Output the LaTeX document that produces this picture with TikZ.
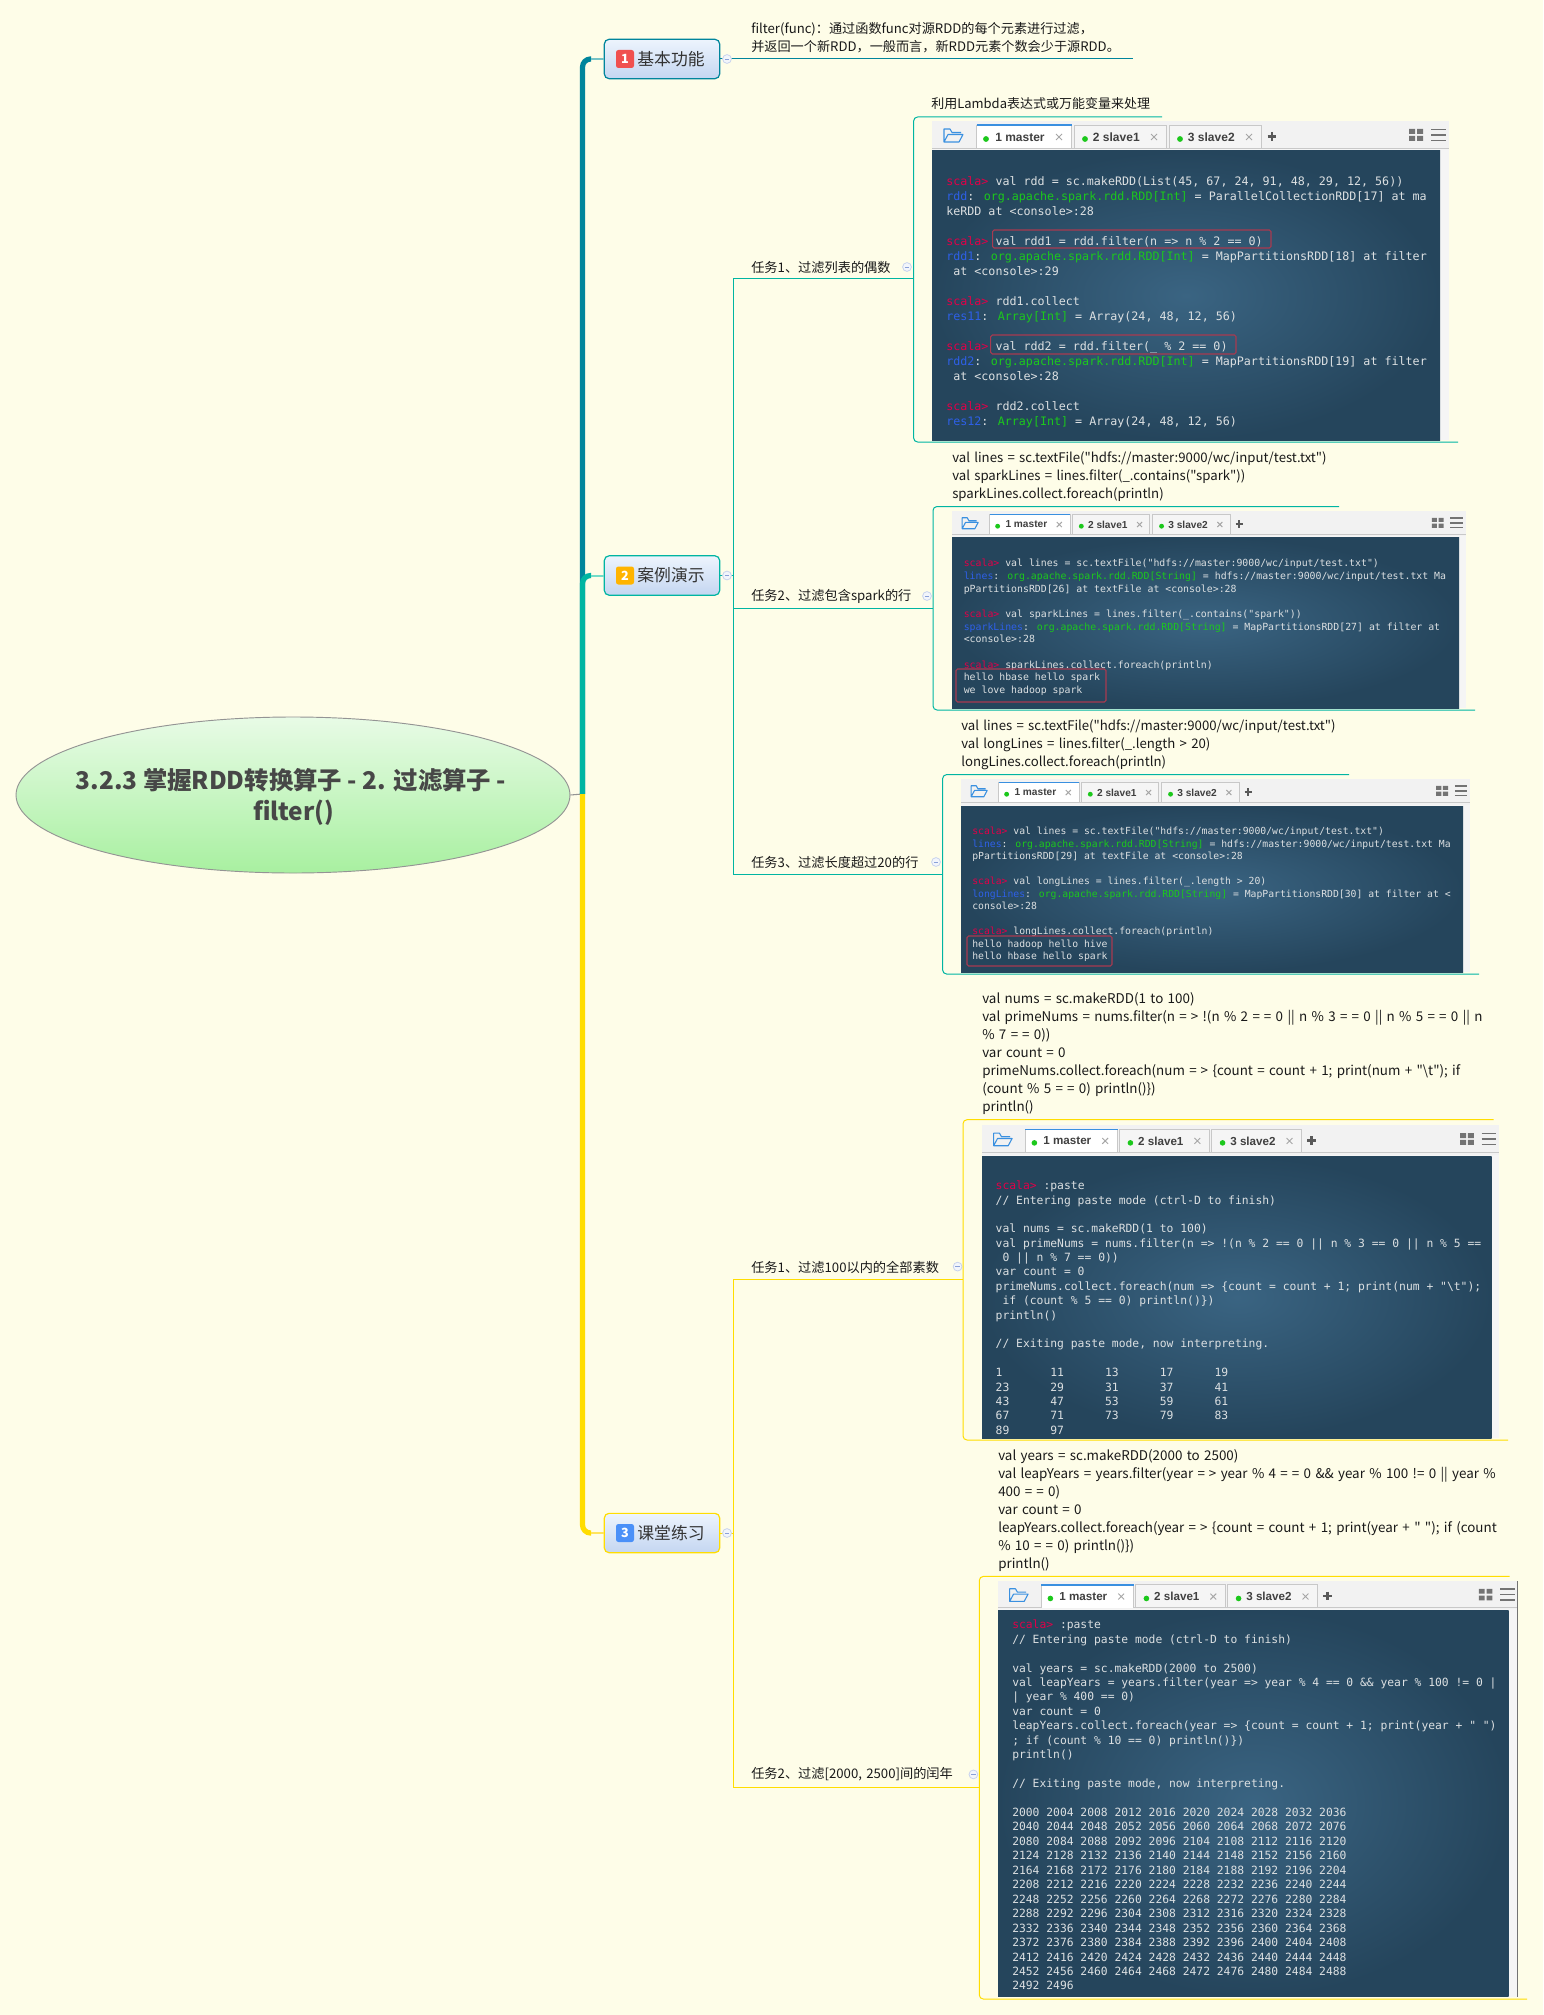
\documentclass[tikz,border=0pt]{standalone}
\usepackage{fontspec}
\usetikzlibrary{shapes.geometric,calc}
\setmainfont{Noto Sans CJK SC}
\newfontfamily\ycode{Noto Sans CJK SC}[WordSpace=1.45]
\newfontfamily\tmono{DejaVu Sans Mono}
\newfontfamily\tabfont{Liberation Sans}
\definecolor{bg}{HTML}{FEFDE8}
\definecolor{tealA}{HTML}{00859C}
\definecolor{tealAl}{HTML}{74C2C6}
\definecolor{tealB}{HTML}{00B5A2}
\definecolor{tealBl}{HTML}{72DCC8}
\definecolor{gold}{HTML}{FFDD00}
\definecolor{goldl}{HTML}{FFE45C}
\definecolor{tprompt}{HTML}{E00048}
\definecolor{tname}{HTML}{2E60E8}
\definecolor{ttype}{HTML}{1CC81C}
\definecolor{ttext}{HTML}{DCE0E2}
\definecolor{redbox}{HTML}{A83A50}
\definecolor{tabline}{HTML}{C8C8C8}
\definecolor{iconblue}{HTML}{3A90E0}
\definecolor{topA}{HTML}{EDF4FD}
\definecolor{topB}{HTML}{C4D6F1}
\definecolor{collb}{HTML}{C8D3EE}
\definecolor{collf}{HTML}{F2F5FB}
\definecolor{collm}{HTML}{8AA0D8}
\definecolor{termA}{HTML}{3A6482}
\definecolor{termB}{HTML}{25455C}
\definecolor{rootA}{HTML}{E8FBE6}
\definecolor{rootB}{HTML}{A8F0A0}
\definecolor{badgeA}{HTML}{F0504F}
\definecolor{badgeB}{HTML}{FFB400}
\definecolor{badgeC}{HTML}{4A90F8}
\newcommand\pr{\textcolor{tprompt}{scala>}}
\newcommand\nm[1]{\textcolor{tname}{#1}}
\newcommand\ty[1]{\textcolor{ttype}{#1}}
\newcommand\bl{\mbox{}\\}
\newcommand\eqq{=\kern3pt=}
\newcommand\arr{=\kern3pt>}
\tikzset{
  x=0.75pt,y=-0.75pt,
  topic/.style={rounded corners=3.5pt,top color=topA,bottom color=topB,line width=.9pt,minimum width=86.5pt,minimum height=29.5pt,inner xsep=0pt,inner ysep=0pt,text=black!80,font=\fontsize{12.6pt}{15pt}\selectfont},
  badge/.style={rounded corners=1.8pt,minimum size=13.5pt,inner sep=0pt,text=white,font=\fontsize{9.5pt}{11pt}\selectfont\bfseries},
  coll/.style={circle,draw=collb,fill=collf,minimum size=6.6pt,inner sep=0pt,line width=.6pt,
    path picture={\draw[collm,line width=.6pt] ([xshift=-1.6pt]path picture bounding box.center) -- ([xshift=1.6pt]path picture bounding box.center);}},
  task/.style={anchor=west,inner sep=0pt,text=black!90,font=\ycode\fontsize{9.9pt}{12pt}\selectfont},
  thinA/.style={draw=tealA,line width=.75pt},
  thinB/.style={draw=tealB,line width=.75pt},
  thinC/.style={draw=gold,line width=.75pt},
  redmark/.style={draw=redbox,line width=.8pt,rounded corners=1.2pt},
  tabshape/.style={draw=tabline,line width=.7pt,fill=#1},
}
% text block: name, x, y of first line centre, font px, leading px, text
\newcommand\blocktext[6]{%
  \pgfmathsetmacro\fpt{#4*0.75}\pgfmathsetmacro\lpt{#5*0.75}%
  \pgfmathsetmacro\tpos{#3-0.7*#4}%
  \node[anchor=north west,inner sep=0pt,align=left,text=black!90,font=\ycode\fontsize{\fpt pt}{\lpt pt}\selectfont] (#1) at (#2,\tpos) {\rule{0pt}{\fpt pt}#6};}
\newcommand\termtext[6]{%
  \pgfmathsetmacro\fpt{#4*0.75}\pgfmathsetmacro\lpt{#5*0.75}%
  \pgfmathsetmacro\tpos{#3-0.7*#4}%
  \node[anchor=north west,inner sep=0pt,align=left,text=ttext,font=\tmono\fontsize{\fpt pt}{\lpt pt}\selectfont] (#1) at (#2,\tpos) {\rule{0pt}{\fpt pt}#6};}
% screenshot: prefix, x, ytop, width, term right, term top, term bottom, scale
\newcommand\shot[8]{%
  \pgfmathsetmacro\rw{#4/#8}\pgfmathsetmacro\tf{12*#8*0.75}%
  \fill[white!96!black] (#2,#3) rectangle (#2+#4,#7);
  \fill[black!5] (#2,#3) rectangle (#2+#4,#6-1.5);
  \begin{scope}[shift={(#2,#3)},scale=#8]
    \draw[tabline,line width=.8pt] (0,27.5) -- (\rw,27.5);
    \draw[iconblue,line width=.8pt,line join=round] (29,11.5) -- (20,11.5) -- (18,8) -- (12,8) -- (12,21) -- (27,21) -- (31,13.5) -- (16,13.5) -- (12,21);
    \draw[tabshape=white] (44.7,27.5) -- (44.7,4) -- (139.7,4) -- (139.7,27.5);
    \draw[iconblue,line width=1.1pt] (44.7,4) -- (139.7,4);
    \draw[tabshape=black!4] (142,27) -- (142,4) -- (234,4) -- (234,27);
    \draw[tabshape=black!4] (237,27) -- (237,4) -- (329.7,4) -- (329.7,27);
    \fill[ttype] (54,18) circle (2.9);
    \fill[ttype] (153,18) circle (2.9);
    \fill[ttype] (248,18) circle (2.9);
    \node[anchor=west,inner sep=0pt,text=black!75,font=\tabfont\bfseries\fontsize{\tf pt}{\tf pt}\selectfont] (#1a) at (63,16) {1 master};
    \node[anchor=west,inner sep=0pt,text=black!75,font=\tabfont\bfseries\fontsize{\tf pt}{\tf pt}\selectfont] (#1b) at (160.7,16) {2 slave1};
    \node[anchor=west,inner sep=0pt,text=black!75,font=\tabfont\bfseries\fontsize{\tf pt}{\tf pt}\selectfont] (#1c) at (255.7,16) {3 slave2};
    \foreach \cx in {127,222,317} {\draw[black!35,line width=.7pt] (\cx-3,13) -- (\cx+3,19) (\cx-3,19) -- (\cx+3,13);}
    \draw[black!65,line width=1.6pt] (335.5,15.5) -- (344,15.5) (339.7,11) -- (339.7,20);
    \fill[black!55] (\rw-40,8) rectangle (\rw-34,13) (\rw-32,8) rectangle (\rw-26,13) (\rw-40,15) rectangle (\rw-34,20) (\rw-32,15) rectangle (\rw-26,20);
    \draw[black!55,line width=1.2pt] (\rw-18,8.5) -- (\rw-3,8.5) (\rw-18,14) -- (\rw-3,14) (\rw-18,19.5) -- (\rw-3,19.5);
  \end{scope}
  \shade[inner color=termA,outer color=termB] (#2,#6) rectangle (#5,#7);
}
\begin{document}
\begin{tikzpicture}
\useasboundingbox (0,0) rectangle (1543,2015);
\fill[bg] (0,0) rectangle (1543,2015);

% ---------- central topic and level-1 topics
\node[ellipse,draw=black!42,line width=.7pt,top color=rootA,bottom color=rootB,inner sep=0pt,minimum width=415.5pt,minimum height=117pt] (root) at (293,795) {};
\node[inner sep=0pt,align=center,text=black!72,font=\fontsize{18.3pt}{23.6pt}\selectfont\bfseries] (rootlabel) at (291,797) {3.2.3 掌握RDD转换算子 - 2. 过滤算子 -\\\kern4pt filter()};

\node[topic,draw=tealA] (n1) at (662,59) {\hspace*{13.5pt}基本功能};
\node[topic,draw=tealB] (n2) at (662,575.5) {\hspace*{13.5pt}案例演示};
\node[topic,draw=gold] (n3) at (662,1533) {\hspace*{13.5pt}课堂练习};
\node[badge,fill=badgeA] (b1) at (625,59) {1};
\node[badge,fill=badgeB] (b2) at (625,575.5) {2};
\node[badge,fill=badgeC] (b3) at (625,1533) {3};

\coordinate (j) at (582.5,794);
\draw[black!42,line width=.8pt] (root.east) -- (j);
\draw[tealA,line width=3.9pt,rounded corners=6pt] (j) |- (591,59);
\draw[tealAl,line width=1.5pt] (591,59) -- (n1.west);
\draw[tealB,line width=3.9pt,rounded corners=6pt] (j) |- (591,575.5);
\draw[tealBl,line width=1.5pt] (591,575.5) -- (n2.west);
\draw[gold,line width=3.9pt,rounded corners=6pt] (j) |- (591,1533);
\draw[goldl,line width=1.5pt] (591,1533) -- (n3.west);

% ---------- basic function
\coordinate (e1) at (1133,59);
\draw[thinA] (n1.east) -- (e1);
\node[coll] (c1) at (727,59) {};
\blocktext{t1}{751}{29}{13.15}{18}{filter(func)：通过函数func对源RDD的每个元素进行过滤，\\并返回一个新RDD，一般而言，新RDD元素个数会少于源RDD。}

% ---------- case demonstration tree
\coordinate (v2) at (733,575.5);
\coordinate (a1) at (733,279); \coordinate (a3) at (733,874); \coordinate (a2) at (733,608);
\coordinate (b2j) at (933,608); \coordinate (b1j) at (913.6,279); \coordinate (b3j) at (942.6,874);
\draw[thinB] (n2.east) -- (v2);
\draw[thinB] (b1j) -- (a1) -- (a3) -- (b3j);
\draw[thinB] (a2) -- (b2j);
\node[coll] (c2) at (727,575.5) {};

\node[task] (ta1) at (751,267) {任务1、过滤列表的偶数};
\node[coll] (ca1) at (907,267) {};
\coordinate (b1t) at (1162,117); \coordinate (b1b) at (1458,442);
\draw[thinB,rounded corners=3pt] (b1t) -- (913.6,117) -- (913.6,442) -- (b1b);
\blocktext{t21}{931}{104}{13}{18}{利用Lambda表达式或万能变量来处理}
\shot{s1}{932}{121}{517}{1440}{151}{440}{1}
\termtext{x1}{946}{182}{11.68}{15}{\pr\ val rdd = sc.makeRDD(List(45, 67, 24, 91, 48, 29, 12, 56))\\
\nm{rdd}: \ty{org.apache.spark.rdd.RDD[Int]} = ParallelCollectionRDD[17] at ma\\
keRDD at <console>:28\\
\bl
\pr\ val rdd1 = rdd.filter(n => n \% 2 == 0)\\
\nm{rdd1}: \ty{org.apache.spark.rdd.RDD[Int]} = MapPartitionsRDD[18] at filter\\
~at <console>:29\\
\bl
\pr\ rdd1.collect\\
\nm{res11}: \ty{Array[Int]} = Array(24, 48, 12, 56)\\
\bl
\pr\ val rdd2 = rdd.filter(\_ \% 2 == 0)\\
\nm{rdd2}: \ty{org.apache.spark.rdd.RDD[Int]} = MapPartitionsRDD[19] at filter\\
~at <console>:28\\
\bl
\pr\ rdd2.collect\\
\nm{res12}: \ty{Array[Int]} = Array(24, 48, 12, 56)}
\draw[redmark] (992.6,230) rectangle (1271,248);
\draw[redmark] (990.7,335) rectangle (1236,354);

\node[task] (ta2) at (751,596) {任务2、过滤包含spark的行};
\node[coll] (ca2) at (927,596) {};
\coordinate (b2t) at (1339,506.5); \coordinate (b2b) at (1475,710);
\draw[thinB,rounded corners=3pt] (b2t) -- (933,506.5) -- (933,710) -- (b2b);
\blocktext{t22}{952}{458.5}{13.2}{18}{val lines = sc.textFile("hdfs://master:9000/wc/input/test.txt")\\val sparkLines = lines.filter(\_.contains("spark"))\\sparkLines.collect.foreach(println)}
\shot{s2}{952}{511}{513.6}{1459}{537.5}{708}{.845}
\termtext{x2}{963.5}{563.6}{9.85}{12.68}{\pr\ val lines = sc.textFile("hdfs://master:9000/wc/input/test.txt")\\
\nm{lines}: \ty{org.apache.spark.rdd.RDD[String]} = hdfs://master:9000/wc/input/test.txt Ma\\
pPartitionsRDD[26] at textFile at <console>:28\\
\bl
\pr\ val sparkLines = lines.filter(\_.contains("spark"))\\
\nm{sparkLines}: \ty{org.apache.spark.rdd.RDD[String]} = MapPartitionsRDD[27] at filter at\\
<console>:28\\
\bl
\pr\ sparkLines.collect.foreach(println)\\
hello hbase hello spark\\
we love hadoop spark}
\draw[redmark] (956,669) rectangle (1106,702);

\node[task] (ta3) at (751,862) {任务3、过滤长度超过20的行};
\node[coll] (ca3) at (936,862) {};
\coordinate (b3t) at (1349,774.6); \coordinate (b3b) at (1479,974);
\draw[thinB,rounded corners=3pt] (b3t) -- (942.6,774.6) -- (942.6,974) -- (b3b);
\blocktext{t23}{961}{726.4}{13.2}{18}{val lines = sc.textFile("hdfs://master:9000/wc/input/test.txt")\\val longLines = lines.filter(\_.length > 20)\\longLines.collect.foreach(println)}
\shot{s3}{961}{779}{509}{1463}{806}{972}{.845}
\termtext{x3}{972}{831.4}{9.77}{12.5}{\pr\ val lines = sc.textFile("hdfs://master:9000/wc/input/test.txt")\\
\nm{lines}: \ty{org.apache.spark.rdd.RDD[String]} = hdfs://master:9000/wc/input/test.txt Ma\\
pPartitionsRDD[29] at textFile at <console>:28\\
\bl
\pr\ val longLines = lines.filter(\_.length > 20)\\
\nm{longLines}: \ty{org.apache.spark.rdd.RDD[String]} = MapPartitionsRDD[30] at filter at <\\
console>:28\\
\bl
\pr\ longLines.collect.foreach(println)\\
hello hadoop hello hive\\
hello hbase hello spark}
\draw[redmark] (967,936) rectangle (1112,966);

% ---------- exercises tree
\coordinate (v3) at (733,1533);
\coordinate (d1) at (733,1279.5); \coordinate (d2) at (733,1787);
\coordinate (e1j) at (963,1279.5); \coordinate (e2j) at (979.3,1787);
\draw[thinC] (n3.east) -- (v3);
\draw[thinC] (e1j) -- (d1) -- (d2) -- (e2j);
\node[coll] (c3) at (727,1533) {};

\node[task] (tb1) at (751,1267) {任务1、过滤100以内的全部素数};
\node[coll] (cb1) at (957.6,1266.6) {};
\coordinate (b4t) at (1493.5,1119.7); \coordinate (b4b) at (1508,1440);
\draw[thinC,rounded corners=3pt] (b4t) -- (963,1119.7) -- (963,1440) -- (b4b);
\blocktext{t31}{982}{999}{13.4}{18.05}{val nums = sc.makeRDD(1 to 100)\\val primeNums = nums.filter(n \arr\ !(n \% 2 \eqq\ 0 || n \% 3 \eqq\ 0 || n \% 5 \eqq\ 0 || n\\\% 7 \eqq\ 0))\\var count = 0\\primeNums.collect.foreach(num \arr\ \{count = count + 1; print(num + "\textbackslash t"); if\\(count \% 5 \eqq\ 0) println()\})\\println()}
\shot{s4}{982}{1125.4}{517}{1491.6}{1156.4}{1438}{.97}
\termtext{x4}{995.4}{1186}{11.36}{14.38}{\pr\ :paste\\
// Entering paste mode (ctrl-D to finish)\\
\bl
val nums = sc.makeRDD(1 to 100)\\
val primeNums = nums.filter(n => !(n \% 2 == 0 || n \% 3 == 0 || n \% 5 ==\\
~0 || n \% 7 == 0))\\
var count = 0\\
primeNums.collect.foreach(num => \{count = count + 1; print(num + "\textbackslash t");\\
~if (count \% 5 == 0) println()\})\\
println()\\
\bl
// Exiting paste mode, now interpreting.\\
\bl
1~~~~~~~11~~~~~~13~~~~~~17~~~~~~19\\
23~~~~~~29~~~~~~31~~~~~~37~~~~~~41\\
43~~~~~~47~~~~~~53~~~~~~59~~~~~~61\\
67~~~~~~71~~~~~~73~~~~~~79~~~~~~83\\
89~~~~~~97}

\node[task] (tb2) at (751,1774) {任务2、过滤[2000, 2500]间的闰年};
\node[coll] (cb2) at (973.4,1774.4) {};
\coordinate (b5t) at (1509.5,1576.4); \coordinate (b5b) at (1527,1999);
\draw[thinC,rounded corners=3pt] (b5t) -- (979.3,1576.4) -- (979.3,1999) -- (b5b);
\blocktext{t32}{998}{1456}{13.4}{18.05}{val years = sc.makeRDD(2000 to 2500)\\val leapYears = years.filter(year \arr\ year \% 4 \eqq\ 0 \&\& year \% 100 != 0 || year \%\\400 \eqq\ 0)\\var count = 0\\leapYears.collect.foreach(year \arr\ \{count = count + 1; print(year + " "); if (count\\\% 10 \eqq\ 0) println()\})\\println()}
\shot{s5}{998}{1581}{519.6}{1508.7}{1610}{1996.7}{.97}
\draw[black!55,line width=.6pt] (1517.6,1581) -- (1517.6,1996.7);
\termtext{x5}{1012}{1625}{11.33}{14.45}{\pr\ :paste\\
// Entering paste mode (ctrl-D to finish)\\
\bl
val years = sc.makeRDD(2000 to 2500)\\
val leapYears = years.filter(year => year \% 4 == 0 \&\& year \% 100 != 0 |\\
| year \% 400 == 0)\\
var count = 0\\
leapYears.collect.foreach(year => \{count = count + 1; print(year + " ")\\
; if (count \% 10 == 0) println()\})\\
println()\\
\bl
// Exiting paste mode, now interpreting.\\
\bl
2000 2004 2008 2012 2016 2020 2024 2028 2032 2036\\
2040 2044 2048 2052 2056 2060 2064 2068 2072 2076\\
2080 2084 2088 2092 2096 2104 2108 2112 2116 2120\\
2124 2128 2132 2136 2140 2144 2148 2152 2156 2160\\
2164 2168 2172 2176 2180 2184 2188 2192 2196 2204\\
2208 2212 2216 2220 2224 2228 2232 2236 2240 2244\\
2248 2252 2256 2260 2264 2268 2272 2276 2280 2284\\
2288 2292 2296 2304 2308 2312 2316 2320 2324 2328\\
2332 2336 2340 2344 2348 2352 2356 2360 2364 2368\\
2372 2376 2380 2384 2388 2392 2396 2400 2404 2408\\
2412 2416 2420 2424 2428 2432 2436 2440 2444 2448\\
2452 2456 2460 2464 2468 2472 2476 2480 2484 2488\\
2492 2496}
\end{tikzpicture}
\end{document}
